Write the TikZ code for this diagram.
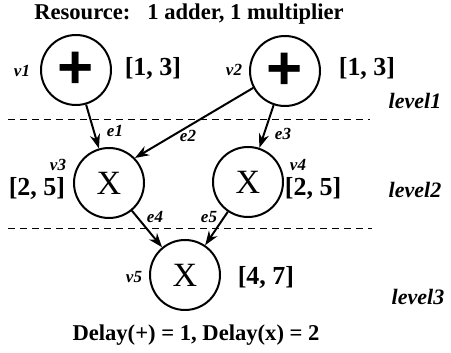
\documentclass[tikz,border=0pt]{standalone}
\usepackage{fontspec}
\setmainfont{Liberation Serif}
\newfontfamily\plusfont{Liberation Sans}
\usetikzlibrary{arrows.meta,positioning}

\begin{document}
\begin{tikzpicture}[
  x=0.5pt, y=-0.5pt,
  >={Stealth[length=2.5mm, width=1.8mm]},
  opnode/.style={draw, circle, line width=1pt, minimum size=35pt, inner sep=0pt},
  addop/.style={opnode, font=\plusfont\bfseries\fontsize{31}{31}\selectfont},
  mulop/.style={opnode, font=\fontsize{17}{17}\selectfont},
  tag/.style={font=\bfseries\itshape\fontsize{8.5}{9}\selectfont, inner sep=0pt},
  interval/.style={font=\bfseries\fontsize{13}{14}\selectfont, inner sep=0pt},
  levelname/.style={font=\bfseries\itshape\fontsize{11}{12}\selectfont, inner sep=0pt},
  note/.style={font=\bfseries\fontsize{11.3}{13}\selectfont, inner sep=0pt},
  edge/.style={draw, ->, line width=1pt},
  levelline/.style={draw, line width=0.5pt, dash pattern=on 3.5pt off 2.5pt}
]
  \useasboundingbox (0,0) rectangle (451,353);

  \node[note] (title) at (189,14) {Resource:\ \ \ 1 adder, 1 multiplier};

  % level 1
  \node[addop] (v1) at (76,70) {+};
  \node[addop] (v2) at (285,71) {+};
  \node[tag] (v1tag) at (22,71) {v1};
  \node[tag] (v2tag) at (234,70) {v2};
  \node[interval] (r1) at (153,68) {[1, 3]};
  \node[interval] (r2) at (367,68) {[1, 3]};
  \node[levelname] (l1) at (415,101) {level1};

  \path[levelline] (8,120) -- (370,120);

  % level 2
  \node[mulop] (v3) at (109,183) {X};
  \node[mulop] (v4) at (248,182) {X};
  \node[tag] (v3tag) at (58,165) {v3};
  \node[tag] (v4tag) at (298,165) {v4};
  \node[interval] (r3) at (37,188) {[2, 5]};
  \node[interval] (r4) at (313,188) {[2, 5]};
  \node[levelname] (l2) at (415,190) {level2};

  \path[levelline] (8,229) -- (372,229);

  % level 3
  \node[mulop] (v5) at (185,275) {X};
  \node[tag] (v5tag) at (134,277) {v5};
  \node[interval] (r5) at (266,277) {[4, 7]};
  \node[levelname] (l3) at (418,297) {level3};

  \node[note] (delay) at (196,335) {Delay(+) = 1, Delay(x) = 2};

  % edges
  \path[edge] (v1) -- (v3);
  \path[edge] (v2.208) -- (v3.44);
  \path[edge] (v2) -- (v4);
  \path[edge] (v3) -- (v5);
  \path[edge] (v4) -- (v5);
  \node[tag] (e1) at (115,131) {e1};
  \node[tag] (e2) at (188,136) {e2};
  \node[tag] (e3) at (283,134) {e3};
  \node[tag] (e4) at (155,217) {e4};
  \node[tag] (e5) at (209,217) {e5};
\end{tikzpicture}
\end{document}
